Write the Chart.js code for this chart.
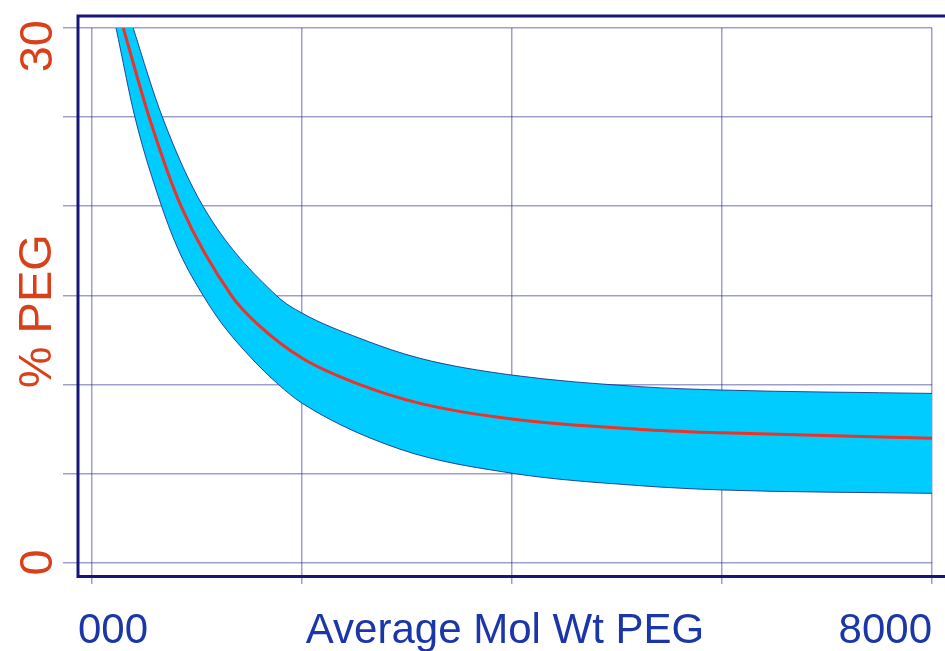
<!DOCTYPE html>
<html>
<head>
<meta charset="utf-8">
<script src="https://cdn.jsdelivr.net/npm/chart.js@4/dist/chart.umd.min.js"></script>
<style>
  html, body { margin: 0; padding: 0; background: #fff; }
  canvas { display: block; }
</style>
</head>
<body>
<canvas id="peg" width="945" height="651"></canvas>
<script>
// Average mol wt (x) and % PEG (y)
const midMolWt = [298, 552, 850, 1330, 1569, 2003, 2552, 3124, 4000, 5219, 6000, 8000];
const midPeg = [30, 24.85, 19.97, 14.97, 13.42, 11.46, 9.98, 8.93, 8.05, 7.47, 7.28, 6.97];

// upper edge starts above the top of the plot (clipped)
const upperMolWt = [229, 393, 673, 1060, 1759, 2000, 2552, 3124, 4000, 5219, 6000, 8000];
const upperPeg = [33.2, 30, 24.96, 19.97, 14.97, 14.0, 12.58, 11.46, 10.52, 9.87, 9.68, 9.49];

const lowerMolWt = [229, 410, 664, 838, 1060, 1235, 1505, 1774, 2003, 2933, 4000, 5219, 6000, 8000];
const lowerPeg = [30, 24.96, 19.97, 17.35, 14.97, 13.42, 11.55, 10.0, 8.93, 6.36, 5.01, 4.31, 4.07, 3.88];

const yTickLabels = { top: "30", bottom: "0" };
const yTitle = "% PEG";
const xTitle = "Average Mol Wt PEG";
const xLeftLabel = "000";
const xRightLabel = "8000";

const toPoints = (xs, ys) => xs.map((x, i) => ({ x: x, y: ys[i] }));

const navy = "#16167a";
const gridColor = "rgba(40,40,140,0.45)";
const redText = "#d8401a";
const blueText = "#1a36a8";

// frame + all the text is drawn by hand, the library only does grid and curves
const decorations = {
  id: "decorations",
  afterDraw(chart) {
    const { ctx, chartArea, scales } = chart;
    const xs = scales.x, ys = scales.y;
    ctx.save();

    // dark outer frame
    ctx.strokeStyle = navy;
    ctx.lineWidth = 3;
    ctx.beginPath();
    ctx.moveTo(950, 16);
    ctx.lineTo(78, 16);
    ctx.lineTo(78, 576.5);
    ctx.lineTo(950, 576.5);
    ctx.stroke();

    // y labels, rotated
    ctx.fillStyle = redText;
    ctx.font = '47px "Liberation Sans", Arial, sans-serif';
    ctx.textBaseline = "alphabetic";

    ctx.save();
    ctx.translate(52, ys.getPixelForValue(30) - 8);
    ctx.rotate(-Math.PI / 2);
    ctx.textAlign = "right";
    ctx.fillText(yTickLabels.top, 0, 0);
    ctx.restore();

    ctx.save();
    ctx.translate(52, ys.getPixelForValue(0));
    ctx.rotate(-Math.PI / 2);
    ctx.textAlign = "center";
    ctx.fillText(yTickLabels.bottom, 0, 0);
    ctx.restore();

    ctx.save();
    ctx.translate(51, (chartArea.top + chartArea.bottom) / 2 + 16);
    ctx.rotate(-Math.PI / 2);
    ctx.textAlign = "center";
    ctx.fillText(yTitle, 0, 0);
    ctx.restore();

    // x labels all sit on one baseline
    ctx.fillStyle = blueText;
    ctx.font = '42px "Liberation Sans", Arial, sans-serif';
    const base = 643;
    ctx.textAlign = "left";
    ctx.fillText(xLeftLabel, 78, base);
    ctx.textAlign = "center";
    ctx.fillText(xTitle, xs.getPixelForValue(4000) - 7, base);
    ctx.textAlign = "right";
    ctx.fillText(xRightLabel, xs.getPixelForValue(8000), base);

    ctx.restore();
  }
};

const curve = { pointRadius: 0, cubicInterpolationMode: "monotone" };

new Chart(document.getElementById("peg"), {
  type: "line",
  data: {
    datasets: [
      {
        ...curve,
        label: "mid",
        data: toPoints(midMolWt, midPeg),
        borderColor: "#ec3328",
        borderWidth: 3,
        fill: false
      },
      {
        ...curve,
        label: "lower",
        data: toPoints(lowerMolWt, lowerPeg),
        borderColor: "rgba(20,30,120,0.8)",
        borderWidth: 1,
        fill: false
      },
      {
        ...curve,
        label: "upper",
        data: toPoints(upperMolWt, upperPeg),
        borderColor: "rgba(20,30,120,0.8)",
        backgroundColor: "#00ccff",
        borderWidth: 1,
        fill: "-1"
      }
    ]
  },
  options: {
    responsive: false,
    animation: false,
    layout: { padding: { top: 28, right: 13, left: 0, bottom: 0 } },
    plugins: {
      legend: { display: false },
      tooltip: { enabled: false }
    },
    scales: {
      x: {
        type: "linear",
        min: 0,
        max: 8000,
        z: 1,
        ticks: { display: false, stepSize: 2000 },
        grid: { color: gridColor, lineWidth: 1.5, tickLength: 21.5 },
        border: { display: false },
        afterFit(scale) { scale.height = 88.5; }
      },
      y: {
        min: 0,
        max: 30,
        z: 1,
        ticks: { display: false, stepSize: 5 },
        grid: { color: gridColor, lineWidth: 1.5, tickLength: 29 },
        border: { display: false },
        afterFit(scale) { scale.width = 92; }
      }
    }
  },
  plugins: [decorations]
});
</script>
</body>
</html>
